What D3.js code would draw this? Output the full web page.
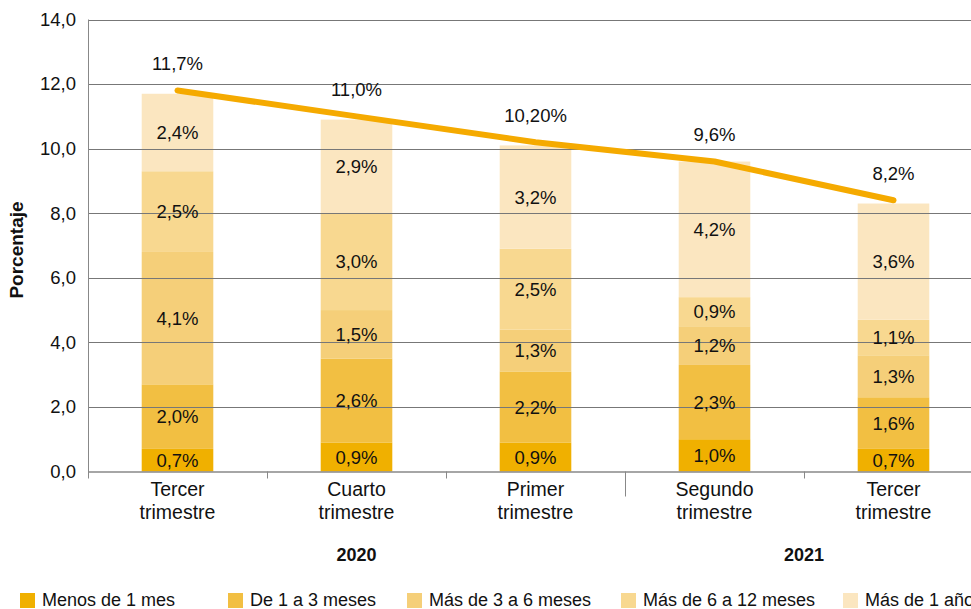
<!DOCTYPE html>
<html><head><meta charset="utf-8">
<script src="https://cdn.jsdelivr.net/npm/d3@7"></script>
<style>
html,body{margin:0;padding:0;background:#fff;}
svg{display:block;font-family:"Liberation Sans",Arial,Helvetica,sans-serif;}
</style></head>
<body>
<svg id="chart" width="971" height="609"></svg>
<script>
// ---- data ----
const categories = ["Tercer trimestre","Cuarto trimestre","Primer trimestre","Segundo trimestre","Tercer trimestre "];
const catLines = [["Tercer","trimestre"],["Cuarto","trimestre"],["Primer","trimestre"],["Segundo","trimestre"],["Tercer","trimestre"]];
const seriesNames = ["Menos de 1 mes","De 1 a 3 meses","Más de 3 a 6 meses","Más de 6 a 12 meses","Más de 1 año"];
const menos1 = [0.7, 0.9, 0.9, 1.0, 0.7];
const de1a3 = [2.0, 2.6, 2.2, 2.3, 1.6];
const de3a6 = [4.1, 1.5, 1.3, 1.2, 1.3];
const de6a12 = [2.5, 3.0, 2.5, 0.9, 1.1];
const mas1 = [2.4, 2.9, 3.2, 4.2, 3.6];
const totalLine = [11.8, 11.0, 10.2, 9.6, 8.4];
const totalLabels = ["11,7%","11,0%","10,20%","9,6%","8,2%"];
const yTicks = [0,2,4,6,8,10,12,14];
const years = [{label:"2020", from:0, to:2},{label:"2021", from:3, to:4}];
const colors = ["#F0B000","#F2BF42","#F5CF79","#F8D890","#FBE6C0"];

// ---- layout ----
const svg = d3.select("#chart");
const mLeft = 88, mRight = 983, mTop = 19.5, mBottom = 471.5;
const x = d3.scaleBand().domain(categories).range([mLeft, mRight]).paddingInner(0.6).paddingOuter(0.3);
const y = d3.scaleLinear().domain([0,14]).range([mBottom, mTop]);
const fmt = v => d3.format(".1f")(v).replace(".", ",");

const seriesArrays = [menos1, de1a3, de3a6, de6a12, mas1];
const table = categories.map((c,i) => {
  const o = {cat:c};
  seriesNames.forEach((s,k) => o[s] = seriesArrays[k][i]);
  return o;
});
const stacked = d3.stack().keys(seriesNames)(table);

// bars
const gBars = svg.append("g");
stacked.forEach((layer, k) => {
  gBars.selectAll(null).data(layer).enter().append("rect")
    .attr("x", d => x(d.data.cat))
    .attr("width", x.bandwidth())
    .attr("y", d => y(d[1]))
    .attr("height", d => y(d[0]) - y(d[1]))
    .attr("fill", colors[k]);
});

// gridlines (drawn over bars)
const gGrid = svg.append("g");
gGrid.selectAll("line").data(yTicks.filter(t => t > 0)).enter().append("line")
  .attr("x1", mLeft).attr("x2", 971)
  .attr("y1", d => Math.round(y(d)) + 0.5).attr("y2", d => Math.round(y(d)) + 0.5)
  .attr("stroke", "#777").attr("stroke-width", 1);

// y axis
const yAxis = d3.axisLeft(y).tickValues(yTicks).tickSize(0).tickPadding(12).tickFormat(fmt);
const gy = svg.append("g").attr("transform", `translate(${mLeft},0)`).call(yAxis);
gy.select(".domain").remove();
gy.selectAll("text").attr("font-size", 18.5).attr("fill", "#111").attr("font-family", "Liberation Sans, Arial, sans-serif");
svg.append("line").attr("x1", mLeft + 0.5).attr("x2", mLeft + 0.5).attr("y1", mTop).attr("y2", mBottom + 7)
  .attr("stroke", "#888").attr("stroke-width", 1);

// x axis baseline
svg.append("line").attr("x1", mLeft).attr("x2", 971).attr("y1", mBottom + 0.5).attr("y2", mBottom + 0.5)
  .attr("stroke", "#888").attr("stroke-width", 1.5);
// x ticks at category boundaries
const step = x.step();
const boundaries = d3.range(1, categories.length).map(i => x(categories[i]) - x.paddingInner() * step / 2);
const sepIndex = years[1].from;
svg.append("g").selectAll("line").data(boundaries).enter().append("line")
  .attr("x1", d => Math.round(d) + 0.5).attr("x2", d => Math.round(d) + 0.5)
  .attr("y1", mBottom).attr("y2", (d,i) => i + 1 === sepIndex ? mBottom + 25 : mBottom + 7)
  .attr("stroke", "#888").attr("stroke-width", 1);

// x labels
const gx = svg.append("g");
categories.forEach((c,i) => {
  const t = gx.append("text").attr("x", x(c) + x.bandwidth()/2).attr("y", 496)
    .attr("text-anchor", "middle").attr("font-size", 19.5).attr("fill", "#111");
  catLines[i].forEach((ln, j) => t.append("tspan").attr("x", x(c) + x.bandwidth()/2).attr("dy", j === 0 ? 0 : 23).text(ln));
});

// year labels
years.forEach(yr => {
  const c0 = x(categories[yr.from]) + x.bandwidth()/2;
  const c1 = x(categories[yr.to]) + x.bandwidth()/2;
  svg.append("text").attr("x", (c0 + c1)/2).attr("y", 561).attr("text-anchor", "middle")
    .attr("font-size", 18).attr("font-weight", "bold").attr("fill", "#111").text(yr.label);
});

// y title
svg.append("text").attr("transform", "translate(23,250) rotate(-90)").attr("text-anchor", "middle")
  .attr("font-size", 19).attr("font-weight", "bold").attr("fill", "#111").text("Porcentaje");

// segment labels
const gLab = svg.append("g");
stacked.forEach((layer, k) => {
  gLab.selectAll(null).data(layer).enter().append("text")
    .attr("x", d => x(d.data.cat) + x.bandwidth()/2)
    .attr("y", d => (y(d[0]) + y(d[1]))/2)
    .attr("dy", "0.36em")
    .attr("text-anchor", "middle").attr("font-size", 18.5).attr("fill", "#111")
    .text(d => fmt(d[1] - d[0]) + "%");
});

// total line
const line = d3.line().x((d,i) => x(categories[i]) + x.bandwidth()/2).y(d => y(d));
svg.append("path").datum(totalLine).attr("d", line).attr("fill", "none")
  .attr("stroke", "#F5AA00").attr("stroke-width", 6).attr("stroke-linecap", "round").attr("stroke-linejoin", "round");
svg.append("g").selectAll("text").data(totalLine).enter().append("text")
  .attr("x", (d,i) => x(categories[i]) + x.bandwidth()/2)
  .attr("y", d => y(d) - 27).attr("dy", "0.36em")
  .attr("text-anchor", "middle").attr("font-size", 18.5).attr("fill", "#111")
  .text((d,i) => totalLabels[i]);

// legend
const legendX = [20, 228, 407, 621, 843];
const gLeg = svg.append("g");
seriesNames.forEach((s,k) => {
  gLeg.append("rect").attr("x", legendX[k]).attr("y", 593).attr("width", 15).attr("height", 15).attr("fill", colors[k]);
  gLeg.append("text").attr("x", legendX[k] + 22).attr("y", 606).attr("font-size", 18).attr("fill", "#111").text(s);
});
</script>
</body></html>
